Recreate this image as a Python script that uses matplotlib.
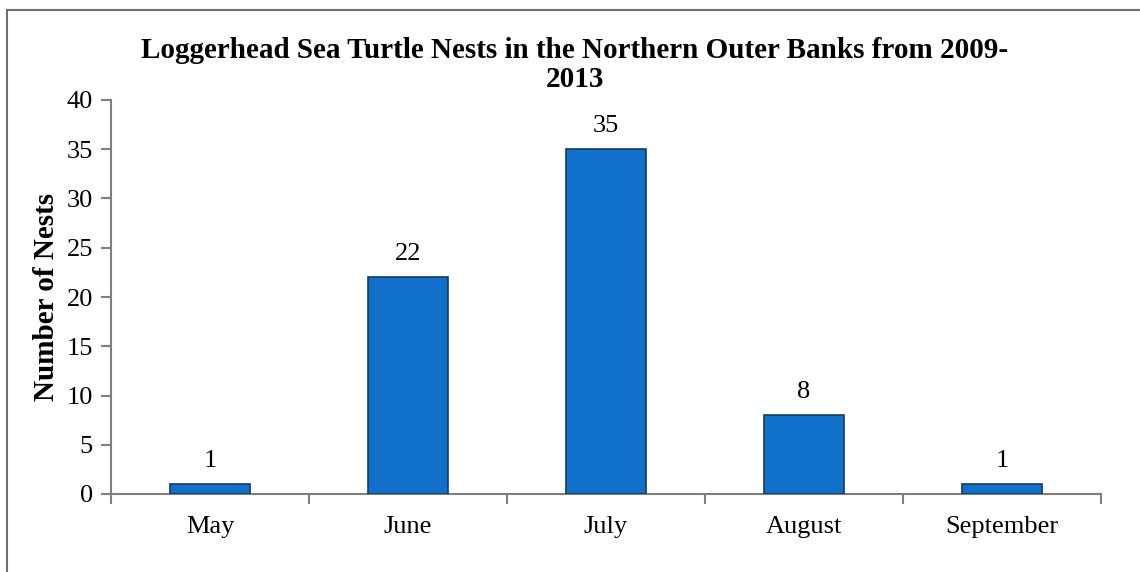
import matplotlib.pyplot as plt
from matplotlib.lines import Line2D

# Data
months = ["May", "June", "July", "August", "September"]
nests = [1, 22, 35, 8, 1]

plt.rcParams['font.family'] = ['Liberation Serif', 'DejaVu Serif']

fig = plt.figure(figsize=(11.4, 5.72), dpi=100)
ax = fig.add_axes([111 / 1140, 1 - 494 / 572, (1101 - 111) / 1140, (494 - 100) / 572])

x = list(range(len(months)))
bars = ax.bar(x, nests, width=0.404, color='#1170c9', edgecolor='#143a5c', linewidth=1.2, zorder=3)

# value labels
for xi, v in zip(x, nests):
    ax.annotate(str(v), (xi, v), xytext=(0, 9), textcoords='offset points',
                ha='center', va='bottom', fontsize=19)

ax.set_xlim(-0.5, len(months) - 0.5)
ax.set_ylim(0, 40)
ax.set_yticks(range(0, 41, 5))
ax.set_xticks(x)
ax.set_xticklabels(months, fontsize=19)
ax.set_xticks([i - 0.5 for i in range(len(months) + 1)], minor=True)
ax.tick_params(axis='x', which='major', length=0, pad=15.5)
ax.tick_params(axis='x', which='minor', length=7, width=1.5, color='#7f7f7f', direction='out')
ax.tick_params(axis='y', length=7, width=1.5, color='#7f7f7f', labelsize=19, pad=6)

for s in ['top', 'right']:
    ax.spines[s].set_visible(False)
for s in ['left', 'bottom']:
    ax.spines[s].set_color('#7f7f7f')
    ax.spines[s].set_linewidth(1.5)

ax.set_ylabel("Number of Nests", fontsize=21, fontweight='bold', labelpad=5)

fig.text(575 / 1140, 1 - 65 / 572,
         "Loggerhead Sea Turtle Nests in the Northern Outer Banks from 2009-\n2013",
         ha='center', va='center', fontsize=21, fontweight='bold', linespacing=1.1)

# chart area border (left and top edges)
fig.add_artist(Line2D([7 / 1140, 7 / 1140], [0, 1 - 9.5 / 572], transform=fig.transFigure,
                      color='#6f6f6f', linewidth=1.5))
fig.add_artist(Line2D([7 / 1140, 1], [1 - 9.5 / 572, 1 - 9.5 / 572], transform=fig.transFigure,
                      color='#6f6f6f', linewidth=1.5))

fig.savefig("out.png", dpi=100)
